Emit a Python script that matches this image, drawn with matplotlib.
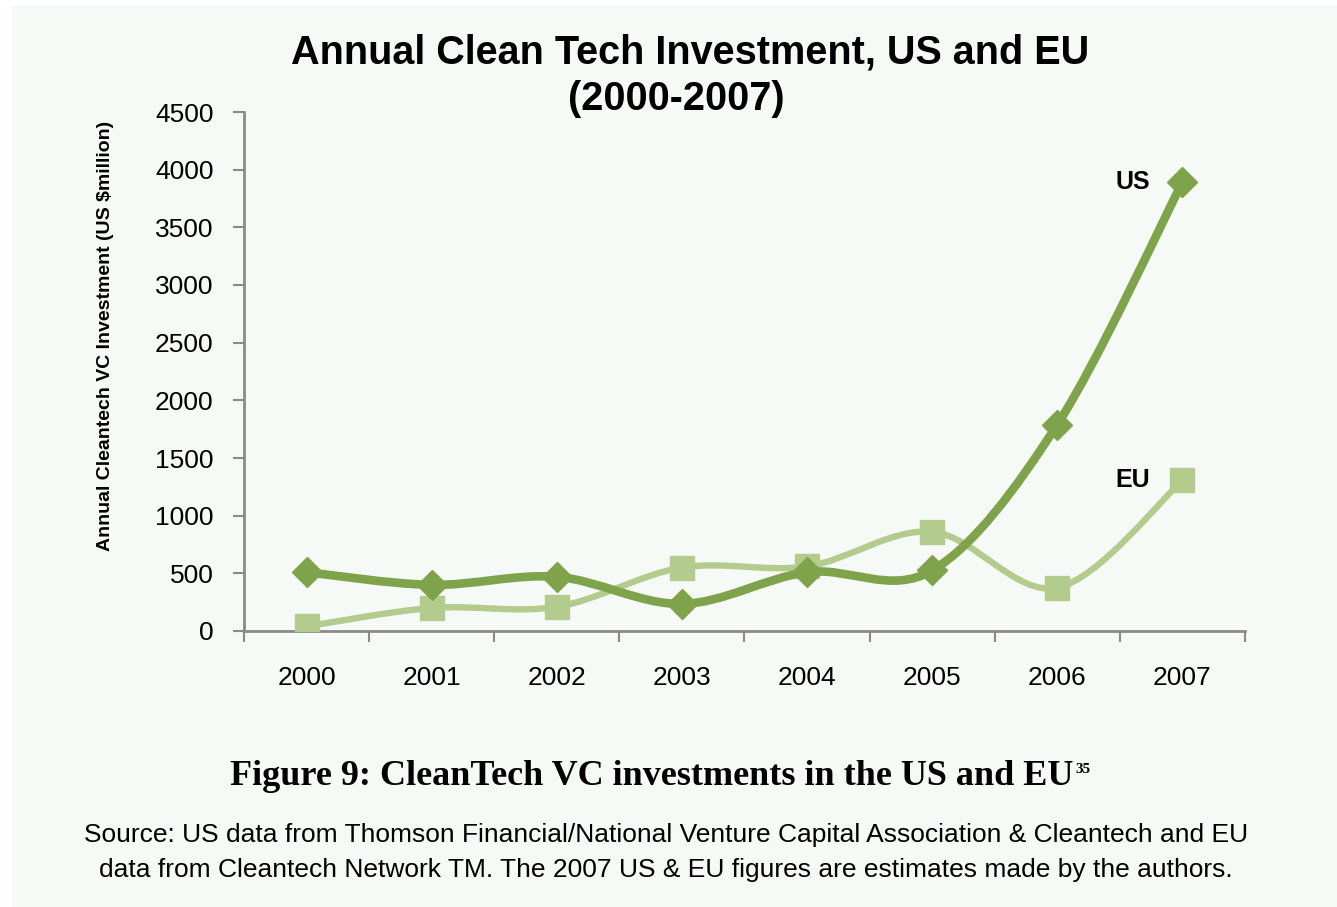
import matplotlib
matplotlib.use("Agg")
import matplotlib.pyplot as plt
from matplotlib.path import Path
from matplotlib.patches import PathPatch, Rectangle
import numpy as np

# Data (US $ million)
years = ["2000", "2001", "2002", "2003", "2004", "2005", "2006", "2007"]
us_values = [510, 400, 470, 235, 510, 525, 1790, 3890]
eu_values = [40, 200, 210, 550, 560, 860, 375, 1305]
y_ticks = [0, 500, 1000, 1500, 2000, 2500, 3000, 3500, 4000, 4500]

US_COLOR = "#7FA34A"
EU_COLOR = "#B3CC8E"
BG = "#F5FAF6"
W, H = 1337, 907

plt.rcParams["font.family"] = ["Liberation Sans", "DejaVu Sans"]


def smooth_path(xs, ys):
    # Excel-style smoothed line: Catmull-Rom segments as cubic Bezier curves
    pts = np.column_stack([xs, ys]).astype(float)
    n = len(pts)
    verts = [pts[0]]
    codes = [Path.MOVETO]
    for i in range(n - 1):
        p0 = pts[i - 1] if i > 0 else pts[i]
        p1 = pts[i]
        p2 = pts[i + 1]
        p3 = pts[i + 2] if i + 2 < n else pts[i + 1]
        c1 = p1 + (p2 - p0) / 6.0
        c2 = p2 - (p3 - p1) / 6.0
        verts += [c1, c2, p2]
        codes += [Path.CURVE4] * 3
    return Path(verts, codes)


fig = plt.figure(figsize=(W / 100, H / 100), dpi=100, facecolor="white")
# pale panel behind everything, small white margin top/left
fig.patches.append(Rectangle((12 / W, 0), 1 - 12 / W, 1 - 6 / H, transform=fig.transFigure,
                             facecolor=BG, edgecolor="none", zorder=-10))

ax = fig.add_axes([244 / W, 1 - 631 / H, 1001 / W, 519 / H])
ax.set_facecolor("none")

x = np.arange(len(years))

ax.add_patch(PathPatch(smooth_path(x, eu_values), fill=False, edgecolor=EU_COLOR,
                       lw=4.6, capstyle="round", joinstyle="round", zorder=2))
ax.plot(x, eu_values, ls="none", marker="s", ms=17, color=EU_COLOR, zorder=3)

ax.add_patch(PathPatch(smooth_path(x, us_values), fill=False, edgecolor=US_COLOR,
                       lw=6.2, capstyle="round", joinstyle="round", zorder=4))
ax.plot(x, us_values, ls="none", marker="D", ms=15, color=US_COLOR, zorder=5)

ax.text(x[-1] - 0.26, us_values[-1], "US", ha="right", va="center",
        fontsize=18, fontweight="bold")
ax.text(x[-1] - 0.26, eu_values[-1], "EU", ha="right", va="center",
        fontsize=18, fontweight="bold")

ax.set_xlim(-0.5, len(years) - 0.5)
ax.set_ylim(0, 4500)
ax.set_yticks(y_ticks)
ax.set_yticklabels([str(v) for v in y_ticks])
ax.set_xticks(np.arange(len(years) + 1) - 0.5)
ax.set_xticklabels([])
ax.set_xticks(x, minor=True)
ax.set_xticklabels(years, minor=True)

ax.tick_params(axis="y", which="major", length=8, width=1.5, color="#8A8A8A",
               labelsize=19, pad=14)
ax.tick_params(axis="x", which="major", length=8, width=1.5, color="#8A8A8A")
ax.tick_params(axis="x", which="minor", length=0, labelsize=19, pad=25)

for side in ["top", "right"]:
    ax.spines[side].set_visible(False)
for side in ["left", "bottom"]:
    ax.spines[side].set_color("#8A8A8A")
    ax.spines[side].set_linewidth(2)

fig.text(106 / W, 1 - 336 / H, "Annual Cleantech VC Investment (US $million)",
         rotation=90, ha="center", va="center", fontsize=14, fontweight="bold")

fig.text(690 / W, 1 - 53 / H, "Annual Clean Tech Investment, US and EU",
         ha="center", va="center", fontsize=28.5, fontweight="bold")
fig.text(676 / W, 1 - 99 / H, "(2000-2007)",
         ha="center", va="center", fontsize=28.5, fontweight="bold")

serif = ["Liberation Serif", "DejaVu Serif"]
cap = fig.text(652 / W, 1 - 785 / H, "Figure 9: CleanTech VC investments in the US and EU",
               ha="center", va="baseline", fontsize=26, fontweight="bold", family=serif)
fig.canvas.draw()
bb = cap.get_window_extent()
fig.text(bb.x1 / W + 0.001, 1 - 773 / H, "35", ha="left", va="baseline",
         fontsize=11, fontweight="bold", family=serif)

fig.text(666 / W, 1 - 835 / H,
         "Source: US data from Thomson Financial/National Venture Capital Association & Cleantech and EU",
         ha="center", va="center", fontsize=19)
fig.text(666 / W, 1 - 870 / H,
         "data from Cleantech Network TM. The 2007 US & EU figures are estimates made by the authors.",
         ha="center", va="center", fontsize=19)

fig.savefig("out.png", dpi=100, facecolor="white")
